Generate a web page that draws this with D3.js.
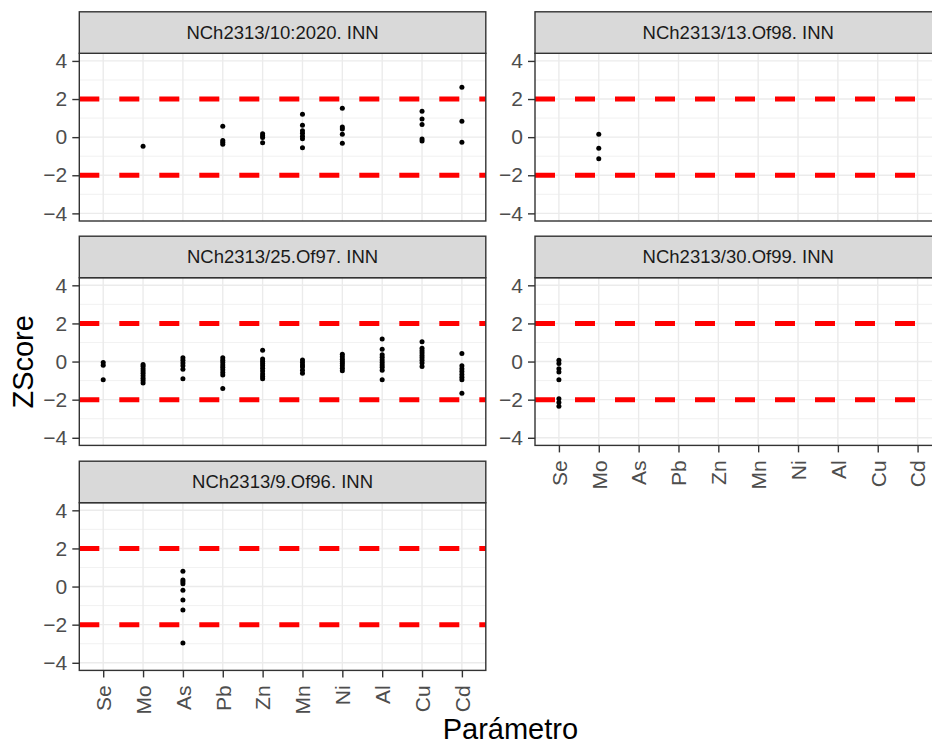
<!DOCTYPE html>
<html>
<head>
<meta charset="utf-8">
<script src="https://cdn.jsdelivr.net/npm/d3@7"></script>
<style>
  body { margin: 0; overflow: hidden; background: #fff; }
  svg { display: block; overflow: hidden; }
</style>
</head>
<body>
<script>
// Categories and panels
var params = ["Se", "Mo", "As", "Pb", "Zn", "Mn", "Ni", "Al", "Cu", "Cd"];
var panelTitles = [
  "NCh2313/10:2020. INN",
  "NCh2313/13.Of98. INN",
  "NCh2313/25.Of97. INN",
  "NCh2313/30.Of99. INN",
  "NCh2313/9.Of96. INN"
];
var yTicks = [-4, -2, 0, 2, 4];
var yMinor = [-3, -1, 1, 3];
var limits = [-2, 2];

// Z scores, one array per panel: [parametro, zscore]
var z2020 = [
  ["Mo", -0.48],
  ["Pb", 0.57], ["Pb", -0.18], ["Pb", -0.27], ["Pb", -0.37],
  ["Zn", 0.18], ["Zn", 0.08], ["Zn", -0.02], ["Zn", -0.3],
  ["Mn", 1.2], ["Mn", 0.62], ["Mn", 0.33], ["Mn", 0.2], ["Mn", 0.05], ["Mn", -0.08], ["Mn", -0.55],
  ["Ni", 1.51], ["Ni", 0.53], ["Ni", 0.43], ["Ni", 0.15], ["Ni", -0.32],
  ["Cu", 1.36], ["Cu", 0.95], ["Cu", 0.67], ["Cu", -0.1], ["Cu", -0.2],
  ["Cd", 2.62], ["Cd", 0.83], ["Cd", -0.27]
];
var z98 = [
  ["Mo", 0.15], ["Mo", -0.58], ["Mo", -1.13]
];
var z97 = [
  ["Se", -0.05], ["Se", -0.2], ["Se", -0.96],
  ["Mo", -0.15], ["Mo", -0.25], ["Mo", -0.38], ["Mo", -0.5], ["Mo", -0.62], ["Mo", -0.75], ["Mo", -0.88], ["Mo", -1.0], ["Mo", -1.12],
  ["As", 0.2], ["As", 0.07], ["As", -0.08], ["As", -0.22], ["As", -0.4], ["As", -0.9],
  ["Pb", 0.2], ["Pb", 0.07], ["Pb", -0.05], ["Pb", -0.18], ["Pb", -0.3], ["Pb", -0.43], ["Pb", -0.58], ["Pb", -0.7], ["Pb", -1.41],
  ["Zn", 0.59], ["Zn", 0.14], ["Zn", 0.02], ["Zn", -0.1], ["Zn", -0.22], ["Zn", -0.35], ["Zn", -0.5], ["Zn", -0.65], ["Zn", -0.78], ["Zn", -0.9],
  ["Mn", 0.08], ["Mn", -0.05], ["Mn", -0.18], ["Mn", -0.28], ["Mn", -0.45], ["Mn", -0.62],
  ["Ni", 0.38], ["Ni", 0.25], ["Ni", 0.12], ["Ni", 0], ["Ni", -0.1], ["Ni", -0.22], ["Ni", -0.35], ["Ni", -0.48],
  ["Al", 1.18], ["Al", 0.64], ["Al", 0.36], ["Al", 0.22], ["Al", 0.08], ["Al", -0.05], ["Al", -0.18], ["Al", -0.3], ["Al", -0.45], ["Al", -0.96],
  ["Cu", 1.04], ["Cu", 0.7], ["Cu", 0.57], ["Cu", 0.45], ["Cu", 0.32], ["Cu", 0.2], ["Cu", 0.07], ["Cu", -0.08], ["Cu", -0.26],
  ["Cd", 0.42], ["Cd", -0.22], ["Cd", -0.38], ["Cd", -0.52], ["Cd", -0.68], ["Cd", -0.82], ["Cd", -0.96], ["Cd", -1.67]
];
var z99 = [
  ["Se", 0.07], ["Se", -0.1], ["Se", -0.38], ["Se", -0.55], ["Se", -0.96],
  ["Se", -1.95], ["Se", -2.15], ["Se", -2.35]
];
var z96 = [
  ["As", 0.8], ["As", 0.35], ["As", 0.25], ["As", 0.15], ["As", -0.19], ["As", -0.71], ["As", -1.23], ["As", -2.96]
];
var panelData = [z2020, z98, z97, z99, z96];

// Layout
var svgWidth = 932;
var svgHeight = 746;
var font = "'Liberation Sans', Arial, sans-serif";
var colLeft = [79.3, 535];
var rowTop = [53.3, 277.7, 502.7];
var panelW = 406.5;
var panelH = 167.7;
var stripH = 41.5;

var svg = d3.select("body")
  .append("svg")
  .attr("width", svgWidth)
  .attr("height", svgHeight)
  .style("font-family", font);

// Scales (same for every facet)
var xScale = d3.scalePoint()
  .domain(params)
  .range([0, panelW])
  .padding(0.6);

var yScale = d3.scaleLinear()
  .domain([-4.4, 4.4])
  .range([panelH, 0]);

panelTitles.forEach(function(title, i) {
  var col = i % 2;
  var row = Math.floor(i / 2);
  var g = svg.append("g")
    .attr("transform", `translate(${colLeft[col]}, ${rowTop[row]})`);

  // background + grid
  g.append("rect")
    .attr("width", panelW)
    .attr("height", panelH)
    .attr("fill", "#fff");

  g.selectAll(".minor")
    .data(yMinor)
    .enter().append("line")
    .attr("x1", 0).attr("x2", panelW)
    .attr("y1", d => yScale(d)).attr("y2", d => yScale(d))
    .attr("stroke", "#EBEBEB")
    .attr("stroke-width", 0.7);

  g.selectAll(".majorY")
    .data(yTicks)
    .enter().append("line")
    .attr("x1", 0).attr("x2", panelW)
    .attr("y1", d => yScale(d)).attr("y2", d => yScale(d))
    .attr("stroke", "#EBEBEB")
    .attr("stroke-width", 1.4);

  g.selectAll(".majorX")
    .data(params)
    .enter().append("line")
    .attr("x1", d => xScale(d)).attr("x2", d => xScale(d))
    .attr("y1", 0).attr("y2", panelH)
    .attr("stroke", "#EBEBEB")
    .attr("stroke-width", 1.4);

  // red limit lines
  g.selectAll(".limit")
    .data(limits)
    .enter().append("line")
    .attr("x1", 0).attr("x2", panelW)
    .attr("y1", d => yScale(d)).attr("y2", d => yScale(d))
    .attr("stroke", "#FF0000")
    .attr("stroke-width", 5)
    .attr("stroke-dasharray", "20,20");

  // points
  g.selectAll(".pt")
    .data(panelData[i])
    .enter().append("circle")
    .attr("cx", d => xScale(d[0]))
    .attr("cy", d => yScale(d[1]))
    .attr("r", 2.5)
    .attr("fill", "#000");

  // border
  g.append("rect")
    .attr("width", panelW)
    .attr("height", panelH)
    .attr("fill", "none")
    .attr("stroke", "#333333")
    .attr("stroke-width", 1.4);

  // strip
  g.append("rect")
    .attr("y", -stripH)
    .attr("width", panelW)
    .attr("height", stripH)
    .attr("fill", "#D9D9D9")
    .attr("stroke", "#333333")
    .attr("stroke-width", 1.4);

  g.append("text")
    .attr("x", panelW / 2)
    .attr("y", -stripH / 2)
    .attr("dy", "0.35em")
    .attr("text-anchor", "middle")
    .attr("font-size", "18.5px")
    .attr("fill", "#1A1A1A")
    .text(title);

  // y axis
  var leftAxis = d3.axisLeft(yScale).tickValues(yTicks).tickSize(7).tickPadding(5);
  var ya = g.append("g").call(leftAxis);
  ya.select(".domain").remove();
  ya.selectAll("line").attr("stroke", "#333333").attr("stroke-width", 1.4);
  ya.selectAll("text")
    .attr("font-size", "21px")
    .attr("font-family", font)
    .attr("fill", "#4D4D4D");

  // x axis only for the lowest panel of each column
  if (i === 3 || i === 4) {
    var bottomAxis = d3.axisBottom(xScale).tickSize(7);
    var xa = g.append("g")
      .attr("transform", `translate(0, ${panelH})`)
      .call(bottomAxis);
    xa.select(".domain").remove();
    xa.selectAll("line").attr("stroke", "#333333").attr("stroke-width", 1.4);
    xa.selectAll("text")
      .attr("transform", "rotate(-90)")
      .attr("x", -15)
      .attr("y", 0)
      .attr("dy", "0.35em")
      .attr("text-anchor", "end")
      .attr("font-size", "21px")
      .attr("font-family", font)
      .attr("fill", "#4D4D4D");
  }
});

// axis titles
svg.append("text")
  .attr("x", (colLeft[0] + colLeft[1] + panelW) / 2)
  .attr("y", 739)
  .attr("text-anchor", "middle")
  .attr("font-size", "29px")
  .attr("fill", "#000")
  .text("Parámetro");

svg.append("text")
  .attr("transform", `translate(33, ${(rowTop[0] + rowTop[2] + panelH) / 2}) rotate(-90)`)
  .attr("text-anchor", "middle")
  .attr("font-size", "29px")
  .attr("fill", "#000")
  .text("ZScore");
</script>
</body>
</html>
